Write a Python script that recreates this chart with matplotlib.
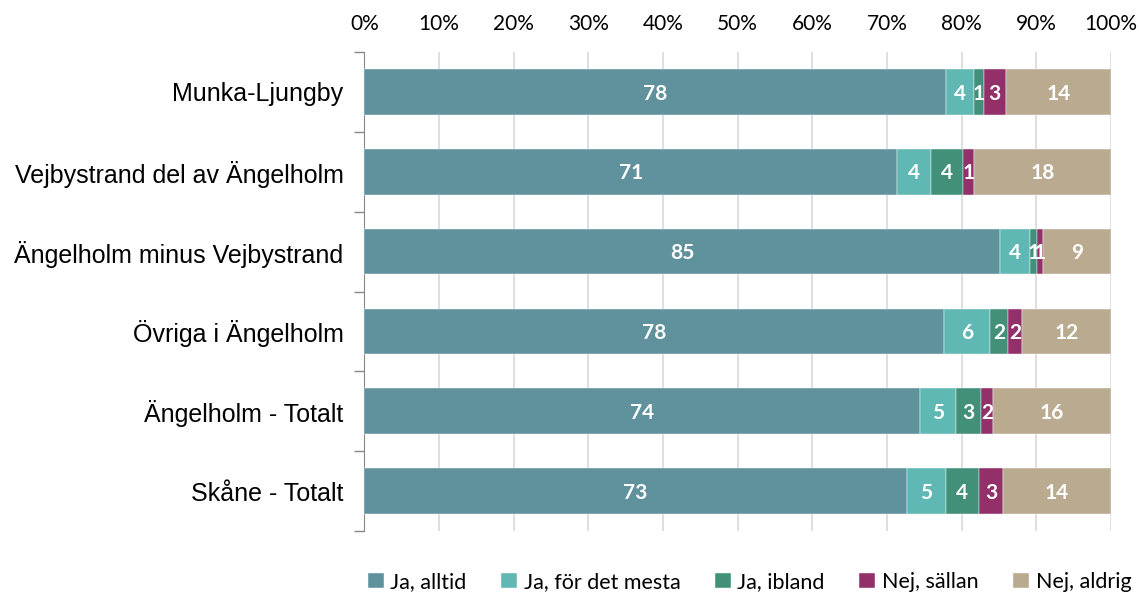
import numpy as np
import matplotlib
matplotlib.use("Agg")
import matplotlib.pyplot as plt

# Kategorier (uppifrån och ned)
areas = ["Munka-Ljungby", "Vejbystrand del av Ängelholm", "Ängelholm minus Vejbystrand",
         "Övriga i Ängelholm", "Ängelholm - Totalt", "Skåne - Totalt"]

answers = ["Ja, alltid", "Ja, för det mesta", "Ja, ibland", "Nej, sällan", "Nej, aldrig"]

# Andel (%) per svarsalternativ, samma ordning som areas
ja_alltid = [77.9, 71.4, 85.1, 77.7, 74.4, 72.65]
ja_mesta = [3.75, 4.45, 4.05, 6.1, 4.8, 5.2]
ja_ibland = [1.3, 4.3, 0.95, 2.45, 3.4, 4.45]
nej_sallan = [2.95, 1.45, 0.75, 1.85, 1.6, 3.25]
nej_aldrig = [14.1, 18.4, 9.15, 11.9, 15.8, 14.45]

colors = ["#5F929D", "#60B8B4", "#42907A", "#93306A", "#B9AA90"]

series = [ja_alltid, ja_mesta, ja_ibland, nej_sallan, nej_aldrig]

fig = plt.figure(figsize=(11.39, 5.96), dpi=100)
ax = fig.add_axes([364.3 / 1139, 1 - 531 / 596, (1111 - 364.3) / 1139, (531 - 52) / 596])

y = np.arange(len(areas))
left = np.zeros(len(areas))
for vals, col, name in zip(series, colors, answers):
    vals = np.array(vals)
    ax.barh(y, vals, left=left, height=0.57, color=col, label=name,
            edgecolor="white", linewidth=0.3, zorder=3)
    for yi, (l, v) in enumerate(zip(left, vals)):
        ax.text(l + v / 2, yi + 0.02, f"{v:.0f}", ha="center", va="center", color="white",
                fontsize=15, fontweight="bold", family="Lato", zorder=4)
    left += vals

ax.set_xlim(0, 100)
ax.set_ylim(len(areas) - 0.5, -0.5)

ax.xaxis.tick_top()
ax.set_xticks(np.arange(0, 101, 10))
ax.set_xticklabels([f"{t}%" for t in range(0, 101, 10)], family="Lato", fontsize=15)
ax.tick_params(axis="x", length=0, pad=13)
ax.grid(axis="x", color="#D9D9D9", linewidth=1.2, zorder=0)

ax.set_yticks(y)
ax.set_yticklabels(areas, family="Liberation Sans", fontsize=18)
ax.tick_params(axis="y", which="major", length=0, pad=15)
ax.set_yticks(np.arange(-0.5, len(areas), 1), minor=True)
ax.tick_params(axis="y", which="minor", length=7, color="#888888", width=1)

for s in ["top", "right", "bottom"]:
    ax.spines[s].set_visible(False)
ax.spines["left"].set_color("#888888")

handles, labels = ax.get_legend_handles_labels()
fig.legend(handles, labels, loc="center", bbox_to_anchor=(0.658, 1 - 582 / 596), ncol=5,
           frameon=False, handlelength=0.75, handleheight=0.75, handletextpad=0.3,
           columnspacing=1.6, prop={"family": "Lato", "size": 15.5})

fig.savefig("out.png", dpi=100)
